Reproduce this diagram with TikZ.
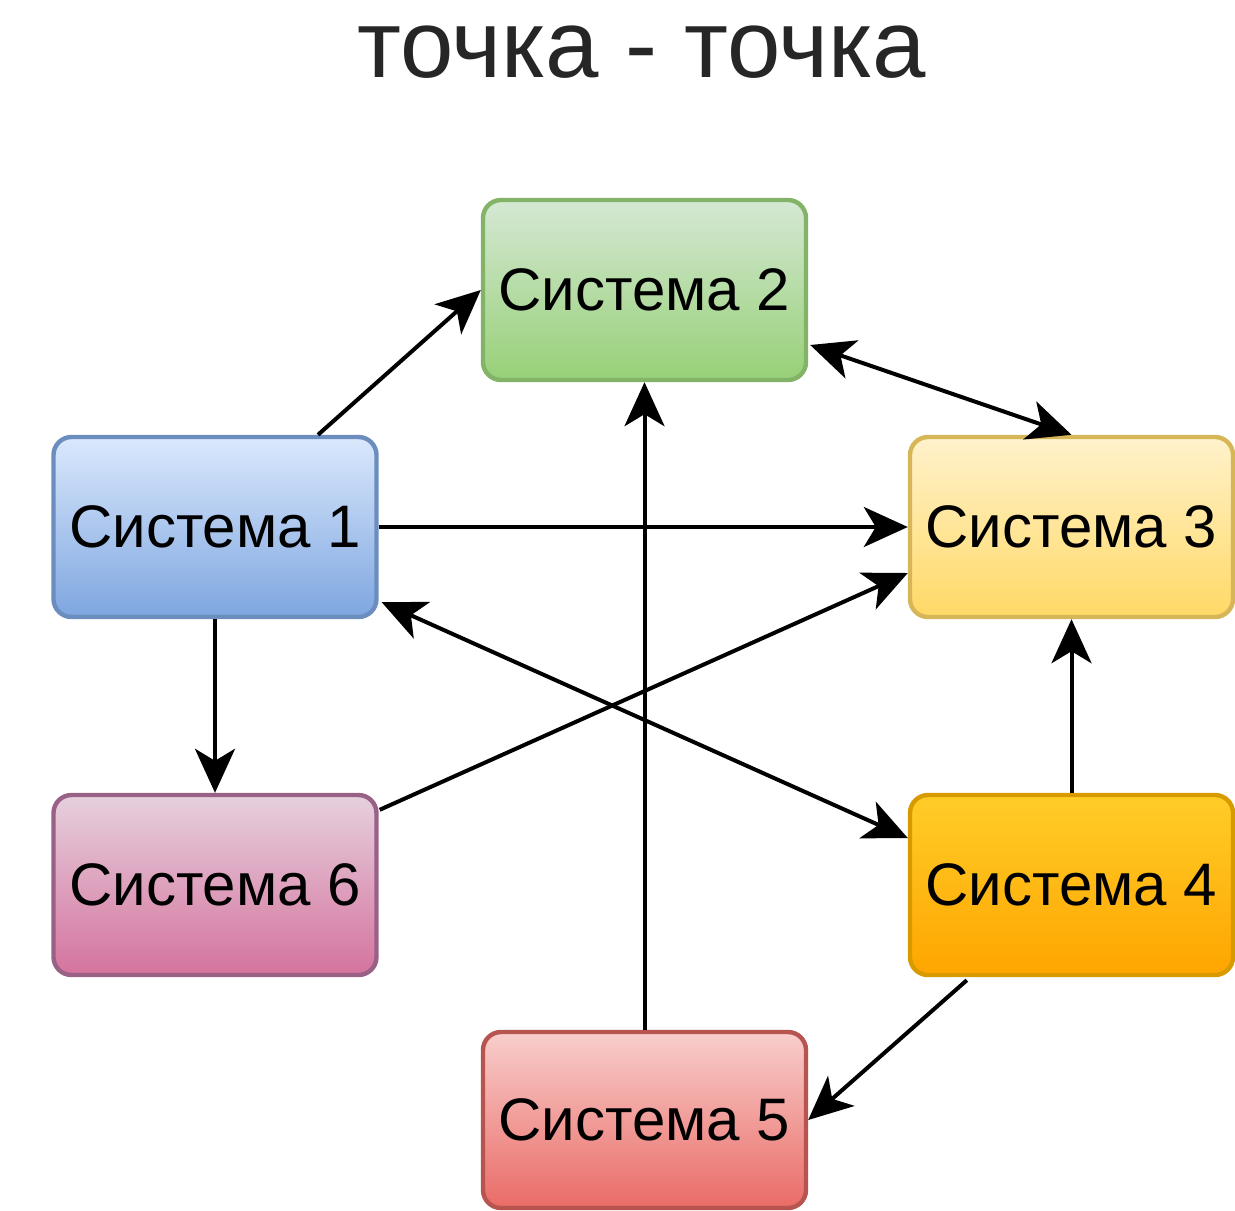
\documentclass[tikz,border=0pt]{standalone}
\usepackage{fontspec}
\setmainfont{Liberation Sans}
\usetikzlibrary{arrows.meta,calc}
\definecolor{gTop}{HTML}{D5E8D4}\definecolor{gBot}{HTML}{97D077}\definecolor{gLine}{HTML}{82B366}
\definecolor{bTop}{HTML}{DAE8FC}\definecolor{bBot}{HTML}{7EA6E0}\definecolor{bLine}{HTML}{6C8EBF}
\definecolor{yTop}{HTML}{FFF2CC}\definecolor{yBot}{HTML}{FFD966}\definecolor{yLine}{HTML}{D6B656}
\definecolor{pTop}{HTML}{E6D0DE}\definecolor{pBot}{HTML}{D5739D}\definecolor{pLine}{HTML}{996185}
\definecolor{oTop}{HTML}{FFCD28}\definecolor{oBot}{HTML}{FFA500}\definecolor{oLine}{HTML}{D79B00}
\definecolor{rTop}{HTML}{F8CECC}\definecolor{rBot}{HTML}{EA6B66}\definecolor{rLine}{HTML}{B85450}
\tikzset{
  sysbox/.style={rectangle, rounded corners=9pt, line width=2.2pt, minimum width=161.5pt,
    minimum height=90pt, inner sep=0pt, font=\fontsize{30}{36}\selectfont},
  conn/.style={line width=2pt, -{Stealth[length=22pt,width=20pt,inset=6pt]}},
  dconn/.style={line width=2pt, {Stealth[length=22pt,width=20pt,inset=6pt]}-{Stealth[length=22pt,width=20pt,inset=6pt]}},
}
\begin{document}
\begin{tikzpicture}[x=0.5pt,y=-0.5pt]
\useasboundingbox (0,0) rectangle (1235,1210);
\node[font=\fontsize{48}{58}\selectfont, text=black!85] (title) at (642,52) {точка - точка};
\node[sysbox, draw=gLine, top color=gTop, bottom color=gBot] (s2) at (644.5,290) {Система 2};
\node[sysbox, draw=bLine, top color=bTop, bottom color=bBot] (s1) at (215,527) {Система 1};
\node[sysbox, draw=yLine, top color=yTop, bottom color=yBot] (s3) at (1071.5,527) {Система 3};
\node[sysbox, draw=pLine, top color=pTop, bottom color=pBot] (s6) at (215,885) {Система 6};
\node[sysbox, draw=oLine, top color=oTop, bottom color=oBot] (s4) at (1071.5,885) {Система 4};
\node[sysbox, draw=rLine, top color=rTop, bottom color=rBot, minimum height=88pt] (s5) at (644.5,1120) {Система 5};
\draw[conn] ($(s1.north)+(103,0)$) -- (s2.west);
\draw[dconn] ($(s2.east)+(2,55)$) -- (s3.north);
\draw[conn] (s1.east) -- (s3.west);
\draw[conn] (s5.north) -- (s2.south);
\draw[dconn] ($(s1.south east)+(3,-17)$) -- ($(s4.west)+(0,-47)$);
\draw[conn] ($(s6.north east)+(1,17)$) -- ($(s3.west)+(0,46)$);
\draw[conn] (s1.south) -- (s6.north);
\draw[conn] (s4.north) -- (s3.south);
\draw[conn] ($(s4.south west)+(59,3)$) -- (s5.east);
\end{tikzpicture}
\end{document}
